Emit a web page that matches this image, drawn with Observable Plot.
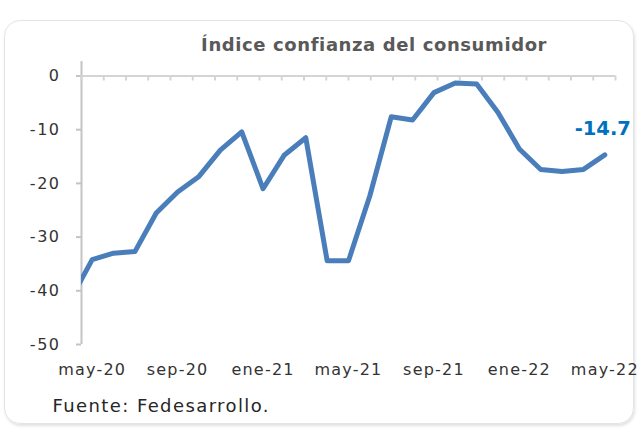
<!DOCTYPE html>
<html>
<head>
<meta charset="utf-8">
<script src="https://cdn.jsdelivr.net/npm/d3@7"></script>
<script src="https://cdn.jsdelivr.net/npm/@observablehq/plot@0.6"></script>
<style>
  html, body { margin: 0; padding: 0; background: #ffffff; }
  #wrap { position: relative; width: 642px; height: 430px; overflow: hidden; background: #ffffff; }
  #card { position: absolute; left: 4px; top: 20px; width: 628px; height: 402px;
          border: 1px solid #e4e4e4; border-radius: 16px; box-shadow: 1px 2px 3px rgba(0,0,0,0.12); }
  #chart { position: absolute; left: 0; top: 0; }
</style>
</head>
<body>
<div id="wrap"><div id="card"></div><div id="chart"></div></div>
<script>
// Data (Fedesarrollo, Índice de confianza del consumidor)
const months = ["abr-20","may-20","jun-20","jul-20","ago-20","sep-20","oct-20","nov-20","dic-20",
                "ene-21","feb-21","mar-21","abr-21","may-21","jun-21","jul-21","ago-21","sep-21",
                "oct-21","nov-21","dic-21","ene-22","feb-22","mar-22","abr-22","may-22"];
const values = [-41.5, -34.2, -33.0, -32.7, -25.5, -21.6, -18.7, -13.8, -10.4,
                -21.0, -14.7, -11.5, -34.4, -34.4, -22.3, -7.6, -8.2, -3.1,
                -1.3, -1.5, -6.8, -13.6, -17.4, -17.8, -17.4, -14.7];
const tickLabels = ["may-20","sep-20","ene-21","may-21","sep-21","ene-22","may-22"];
const yTicks = [0, -10, -20, -30, -40, -50];
const title = "Índice confianza del consumidor";
const caption = "Fuente: Fedesarrollo.";

const data = months.map((m, k) => ({i: k - 1, month: m, value: values[k]}));
const last = data[data.length - 1];

const xMin = -0.5, xMax = 24.5, yMin = -50, yMax = 2.7;
const nAxisTicks = 24;
const axisTicks = d3.range(nAxisTicks + 1).map(k => xMin + k * (xMax - xMin) / nAxisTicks);

const chart = Plot.plot({
  width: 642,
  height: 430,
  marginTop: 61,
  marginBottom: 86,
  marginLeft: 81,
  marginRight: 27,
  style: {fontFamily: "DejaVu Sans", background: "transparent", overflow: "visible"},
  x: {domain: [xMin, xMax]},
  y: {domain: [yMin, yMax]},
  marks: [
    // vertical axis line
    Plot.ruleX([xMin], {y1: yMin, y2: yMax, stroke: "#c4c4c4", strokeWidth: 2}),
    Plot.axisY({ticks: yTicks, tickSize: 5, tickPadding: 16, tickFormat: d => String(d),
                fontSize: 16, stroke: "#c4c4c4", strokeWidth: 2, fill: "#333333", label: null}),
    // horizontal axis at zero with small ticks hanging down
    Plot.ruleY([0], {x1: xMin, x2: xMax, stroke: "#d4d4d4", strokeWidth: 2}),
    Plot.ruleX(axisTicks, {y1: 0, y2: 0, insetBottom: -5, stroke: "#d4d4d4", strokeWidth: 2}),
    Plot.axisX({ticks: tickLabels.map(l => months.indexOf(l) - 1), tickSize: 0, tickPadding: 19.6,
                tickFormat: i => months[i + 1], fontSize: 16, fill: "#333333", label: null}),
    Plot.line(data, {x: "i", y: "value", stroke: "#4a7ebb", strokeWidth: 5, clip: true,
                     strokeLinejoin: "round"}),
    Plot.text([last], {x: "i", y: "value", text: d => String(d.value), fill: "#0070c0",
                       fontWeight: "bold", fontSize: 19.5, dx: -2, dy: -26}),
    Plot.text([title], {frameAnchor: "top", text: d => d, dx: 25.6, dy: -11, lineAnchor: "bottom",
                        fontSize: 18, fontWeight: "bold", fill: "#595959"}),
    Plot.text([caption], {frameAnchor: "bottom-left", text: d => d, textAnchor: "start",
                          lineAnchor: "bottom", dx: -29, dy: 67, fontSize: 18, fill: "#262626"})
  ]
});

// letter spacing to match the slightly wide rendering of the reference
d3.select(chart).selectAll("g[aria-label='y-axis tick label'] text").style("letter-spacing", "1.5px");
d3.select(chart).selectAll("g[aria-label='x-axis tick label'] text").style("letter-spacing", "1.2px");
const textGroups = d3.select(chart).selectAll("g[aria-label='text']").nodes();
if (textGroups[1]) d3.select(textGroups[1]).selectAll("text").style("letter-spacing", "0.6px");
if (textGroups[2]) d3.select(textGroups[2]).selectAll("text").style("letter-spacing", "1.4px");

document.getElementById("chart").appendChild(chart);
</script>
</body>
</html>
